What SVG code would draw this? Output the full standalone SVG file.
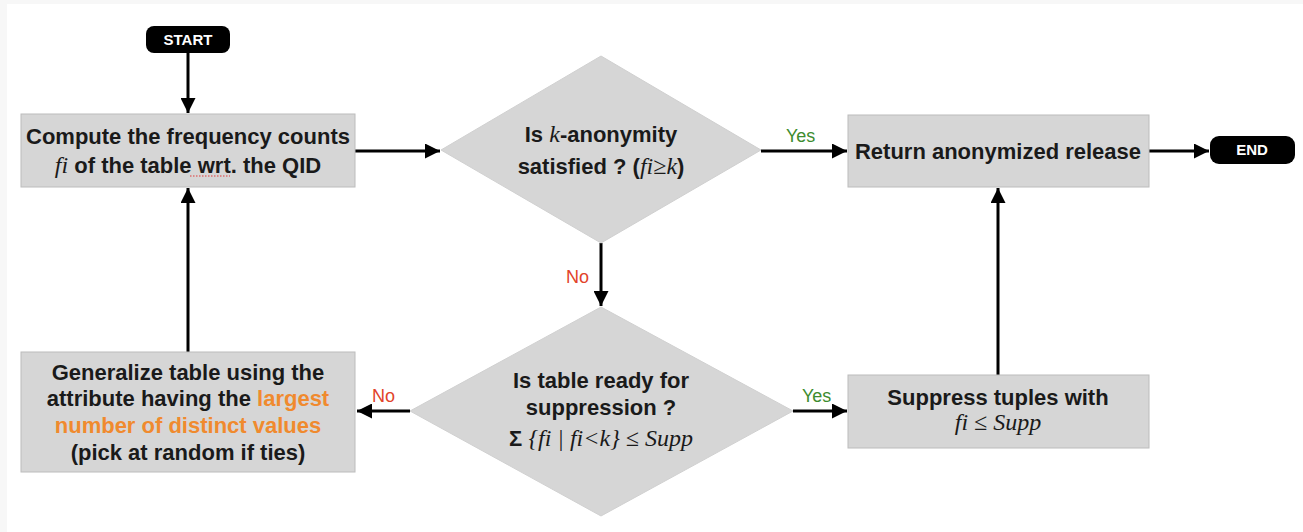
<svg xmlns="http://www.w3.org/2000/svg" width="1303" height="532" viewBox="0 0 1303 532">
  <style>
    .box { fill: #d6d6d6; stroke: #bcbcbc; stroke-width: 1; }
    .dia { fill: #d6d6d6; stroke: #d0d0d0; stroke-width: 1; }
    .pill { fill: #000; }
    .pilltxt { font-family: "Liberation Sans", Arial, sans-serif; font-weight: bold; font-size: 15px; fill: #fff; text-anchor: middle; }
    .t { font-family: "Liberation Sans", Arial, sans-serif; font-weight: bold; font-size: 22px; fill: #1a1a1a; text-anchor: middle; }
    .m { font-family: "Liberation Serif", "Times New Roman", serif; font-style: italic; font-weight: normal; font-size: 24px; }
    .hi { fill: #f08a2e; }
    .edge { stroke: #000; stroke-width: 3; fill: none; marker-end: url(#arrow); }
    .yes { font-family: "Liberation Sans", Arial, sans-serif; font-size: 18px; fill: #3d8c2e; }
    .no { font-family: "Liberation Sans", Arial, sans-serif; font-size: 18px; fill: #e2432a; }
  </style>
  <defs>
    <marker id="arrow" viewBox="0 0 10 10" refX="10" refY="5" markerWidth="5" markerHeight="5" orient="auto" markerUnits="strokeWidth">
      <path d="M0,0 L10,5 L0,10 Z" fill="#000"/>
    </marker>
  </defs>

  <!-- page background with light margin strips -->
  <rect x="0" y="0" width="1303" height="532" fill="#ffffff"/>
  <rect x="0" y="0" width="1303" height="4" fill="#f7f7f7"/>
  <rect x="0" y="0" width="7" height="532" fill="#f7f7f7"/>

  <!-- connectors -->
  <g id="connectors">
    <path class="edge" d="M188,53 L188,113"/>
    <path class="edge" d="M355,151 L440,151"/>
    <path class="edge" d="M761,151 L847,151"/>
    <path class="edge" d="M1149,151 L1209,151"/>
    <path class="edge" d="M601,243 L601,306"/>
    <path class="edge" d="M793,411 L847,411"/>
    <path class="edge" d="M998,375 L998,188"/>
    <path class="edge" d="M410,411 L357,411"/>
    <path class="edge" d="M188,352 L188,188"/>
    <text class="yes" x="786" y="142">Yes</text>
    <text class="no" x="566" y="283">No</text>
    <text class="yes" x="802" y="402">Yes</text>
    <text class="no" x="372" y="402">No</text>
  </g>

  <g id="start">
    <rect class="pill" x="146" y="26" width="84" height="27" rx="8"/>
    <text class="pilltxt" x="188" y="45">START</text>
  </g>

  <g id="compute">
    <rect class="box" x="21" y="114" width="334" height="73"/>
    <text class="t" x="188" y="144">Compute the frequency counts</text>
    <text class="t" x="188" y="173"><tspan class="m">fi</tspan> of the table wrt. the QID</text>
    <line x1="190" y1="176" x2="230" y2="176" stroke="#e03a3a" stroke-width="1.2" stroke-dasharray="1.5,1.5"/>
  </g>

  <g id="check-k">
    <polygon class="dia" points="601,56 761,150 601,243 441,150"/>
    <text class="t" x="601" y="142">Is <tspan class="m">k</tspan>-anonymity</text>
    <text class="t" x="601" y="174">satisfied ? (<tspan class="m">fi≥k</tspan>)</text>
  </g>

  <g id="release">
    <rect class="box" x="848" y="115" width="301" height="72"/>
    <text class="t" x="998" y="159">Return anonymized release</text>
  </g>

  <g id="end">
    <rect class="pill" x="1210" y="136" width="85" height="28" rx="9"/>
    <text class="pilltxt" x="1252" y="155">END</text>
  </g>

  <g id="check-supp">
    <polygon class="dia" points="601,307 793,411 601,516 410,411"/>
    <text class="t" x="601" y="388">Is table ready for</text>
    <text class="t" x="601" y="415">suppression ?</text>
    <text class="t" x="601" y="446">Σ <tspan class="m">{fi | fi&lt;k} ≤ Supp</tspan></text>
  </g>

  <g id="suppress">
    <rect class="box" x="848" y="375" width="301" height="73"/>
    <text class="t" x="998" y="405">Suppress tuples with</text>
    <text class="t" x="998" y="430"><tspan class="m">fi ≤ Supp</tspan></text>
  </g>

  <g id="generalize">
    <rect class="box" x="21" y="352" width="334" height="120"/>
    <text class="t" x="188" y="380">Generalize table using the</text>
    <text class="t" x="188" y="406">attribute having the <tspan class="hi">largest</tspan></text>
    <text class="t" x="188" y="433"><tspan class="hi">number of distinct values</tspan></text>
    <text class="t" x="188" y="460">(pick at random if ties)</text>
  </g>
</svg>
